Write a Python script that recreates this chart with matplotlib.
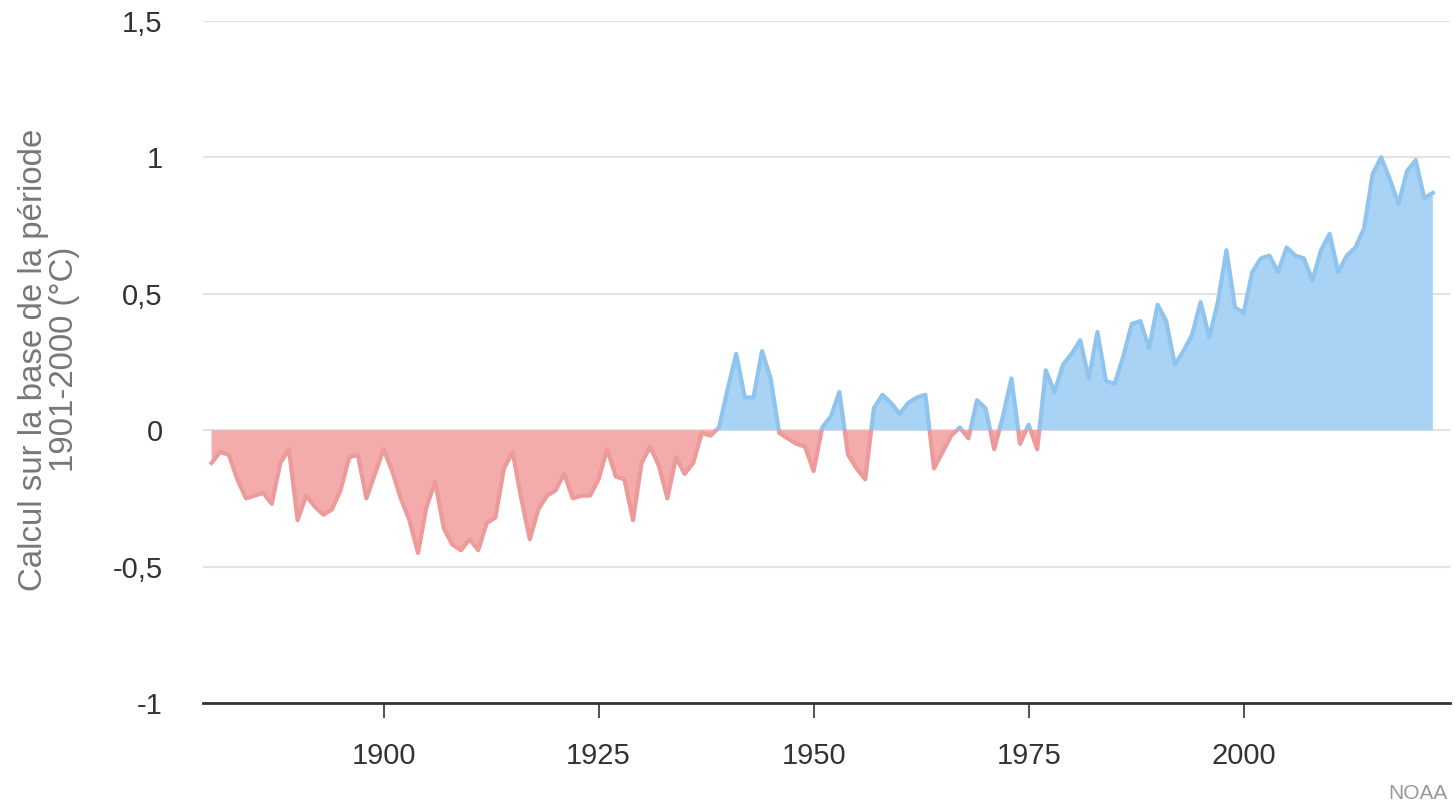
import numpy as np
import matplotlib
matplotlib.use("Agg")
import matplotlib.pyplot as plt
from matplotlib.patches import Rectangle

plt.rcParams["font.family"] = ["Liberation Sans", "DejaVu Sans"]

years = list(range(1880, 2023))

anomaly = [
    -0.12, -0.08, -0.09, -0.18, -0.25, -0.24, -0.23, -0.27, -0.12, -0.07,  # 1880s
    -0.33, -0.24, -0.28, -0.31, -0.29, -0.22, -0.10, -0.09, -0.25, -0.16,  # 1890s
    -0.07, -0.15, -0.25, -0.33, -0.45, -0.28, -0.19, -0.36, -0.42, -0.44,  # 1900s
    -0.40, -0.44, -0.34, -0.32, -0.14, -0.08, -0.25, -0.40, -0.29, -0.24,  # 1910s
    -0.22, -0.16, -0.25, -0.24, -0.24, -0.18, -0.07, -0.17, -0.18, -0.33,  # 1920s
    -0.12, -0.06, -0.13, -0.25, -0.10, -0.16, -0.12, -0.01, -0.02, 0.01,   # 1930s
    0.15, 0.28, 0.12, 0.12, 0.29, 0.19, -0.01, -0.03, -0.05, -0.06,        # 1940s
    -0.15, 0.01, 0.05, 0.14, -0.09, -0.14, -0.18, 0.08, 0.13, 0.10,        # 1950s
    0.06, 0.10, 0.12, 0.13, -0.14, -0.08, -0.02, 0.01, -0.03, 0.11,        # 1960s
    0.08, -0.07, 0.05, 0.19, -0.05, 0.02, -0.07, 0.22, 0.14, 0.24,         # 1970s
    0.28, 0.33, 0.19, 0.36, 0.18, 0.17, 0.27, 0.39, 0.40, 0.30,           # 1980s
    0.46, 0.40, 0.24, 0.29, 0.35, 0.47, 0.34, 0.47, 0.66, 0.45,           # 1990s
    0.43, 0.58, 0.63, 0.64, 0.58, 0.67, 0.64, 0.63, 0.55, 0.66,           # 2000s
    0.72, 0.58, 0.64, 0.67, 0.74, 0.94, 1.00, 0.92, 0.83, 0.95,           # 2010s
    0.99, 0.85, 0.87,                                                      # 2020s
]

y_ticks = [-1, -0.5, 0, 0.5, 1, 1.5]
y_tick_labels = ["-1", "-0,5", "0", "0,5", "1", "1,5"]
x_ticks = [1900, 1925, 1950, 1975, 2000]

x = np.array(years)
y = np.array(anomaly)

fig = plt.figure(figsize=(14.55, 8.05), dpi=100)
ax = fig.add_axes([0.1395, 0.1267, 0.8571, 0.8472])

# fills above / below zero
ax.fill_between(x, y, 0, where=y >= 0, interpolate=True,
                color="#a9d3f5", linewidth=0, zorder=2)
ax.fill_between(x, y, 0, where=y <= 0, interpolate=True,
                color="#f3abab", linewidth=0, zorder=2)

# outline, coloured by sign using clip rectangles
blue_line, = ax.plot(x, y, color="#8fc4ee", linewidth=3, zorder=3,
                     solid_joinstyle="round")
red_line, = ax.plot(x, y, color="#ec9a9a", linewidth=3, zorder=3,
                    solid_joinstyle="round")
blue_line.set_clip_path(Rectangle((1870, 0), 200, 5, transform=ax.transData))
red_line.set_clip_path(Rectangle((1870, -5), 200, 5, transform=ax.transData))

ax.set_xlim(1879, 2024)
ax.set_ylim(-1, 1.5)

ax.set_yticks(y_ticks)
ax.set_yticklabels(y_tick_labels)
ax.set_xticks(x_ticks)

for v in y_ticks[1:]:
    ax.axhline(v, color="#e3e3e3", linewidth=1.5, zorder=1)

for s in ["top", "right", "left"]:
    ax.spines[s].set_visible(False)
ax.spines["bottom"].set_color("#333333")
ax.spines["bottom"].set_linewidth(2)

ax.tick_params(axis="y", length=0, pad=29, labelsize=21, labelcolor="#333333")
ax.tick_params(axis="x", length=11, width=1.2, color="#333333", pad=17,
               labelsize=21, labelcolor="#333333")

fig.text(0.034, 0.553, "Calcul sur la base de la période\n1901-2000 (°C)",
         rotation=90, ha="center", va="center", fontsize=23.8,
         color="#777777", linespacing=1.0)

fig.text(0.995, 0.002, "NOAA", ha="right", va="bottom", fontsize=15,
         color="#999999")

fig.savefig("out.png", dpi=100)
